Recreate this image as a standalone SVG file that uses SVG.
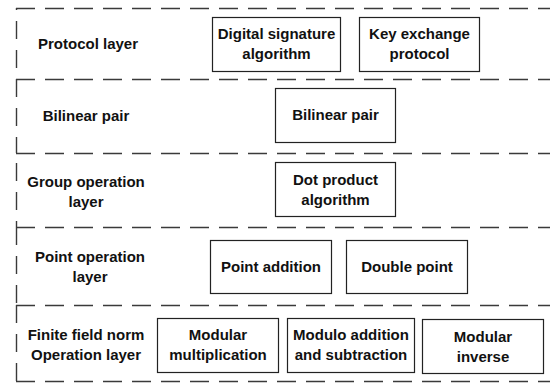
<svg xmlns="http://www.w3.org/2000/svg" width="550" height="385" viewBox="0 0 550 385">
  <style>
    .bg { fill: #ffffff; }
    .dash { fill: none; stroke: #3a3a3a; stroke-width: 1.4; stroke-dasharray: 19 10; }
    .vdash { fill: none; stroke: #3a3a3a; stroke-width: 1.4; stroke-dasharray: 18 11; }
    .box { fill: #ffffff; stroke: #222222; stroke-width: 1.2; }
    text { font-family: "Liberation Sans", Arial, sans-serif; font-weight: bold; font-size: 15px; fill: #111111; text-anchor: middle; }
  </style>
  <rect class="bg" x="0" y="0" width="550" height="385"/>

  <!-- layer boundaries -->
  <g id="layer-borders">
    <line class="dash" x1="16" y1="8.5" x2="550" y2="8.5"/>
    <line class="dash" x1="16" y1="79.5" x2="550" y2="79.5"/>
    <line class="dash" x1="16" y1="153.5" x2="550" y2="153.5"/>
    <line class="dash" x1="16" y1="227.5" x2="550" y2="227.5"/>
    <line class="dash" x1="16" y1="305.5" x2="550" y2="305.5"/>
    <line class="dash" x1="16" y1="381.5" x2="550" y2="381.5"/>
    <line class="vdash" x1="16.5" y1="8" x2="16.5" y2="79" stroke-dashoffset="16"/>
    <line class="vdash" x1="16.5" y1="79" x2="16.5" y2="153" stroke-dashoffset="0"/>
    <line class="vdash" x1="16.5" y1="153" x2="16.5" y2="227" stroke-dashoffset="19"/>
    <line class="vdash" x1="16.5" y1="227" x2="16.5" y2="305" stroke-dashoffset="0"/>
    <line class="vdash" x1="16.5" y1="305" x2="16.5" y2="382" stroke-dashoffset="0"/>
  </g>

  <!-- layer labels -->
  <g id="label-protocol"><text x="88" y="49">Protocol layer</text></g>
  <g id="label-bilinear"><text x="86" y="121">Bilinear pair</text></g>
  <g id="label-group"><text x="86" y="187">Group operation</text><text x="86" y="207">layer</text></g>
  <g id="label-point"><text x="90" y="262">Point operation</text><text x="90" y="282">layer</text></g>
  <g id="label-field"><text x="86" y="340">Finite field norm</text><text x="86" y="360">Operation layer</text></g>

  <!-- protocol layer -->
  <g id="digital-signature">
    <rect class="box" x="212.5" y="17.5" width="128" height="54"/>
    <text x="276.5" y="39">Digital signature</text>
    <text x="276.5" y="59">algorithm</text>
  </g>
  <g id="key-exchange">
    <rect class="box" x="359.5" y="17.5" width="120" height="54"/>
    <text x="419.5" y="39">Key exchange</text>
    <text x="419.5" y="59">protocol</text>
  </g>

  <!-- bilinear pair layer -->
  <g id="bilinear-pair">
    <rect class="box" x="275.5" y="88.5" width="120" height="54"/>
    <text x="335.5" y="120">Bilinear pair</text>
  </g>

  <!-- group operation layer -->
  <g id="dot-product">
    <rect class="box" x="275.5" y="162.5" width="120" height="54"/>
    <text x="335.5" y="185">Dot product</text>
    <text x="335.5" y="205">algorithm</text>
  </g>

  <!-- point operation layer -->
  <g id="point-addition">
    <rect class="box" x="210.5" y="240.5" width="121" height="53"/>
    <text x="271" y="272">Point addition</text>
  </g>
  <g id="double-point">
    <rect class="box" x="346.5" y="240.5" width="121" height="53"/>
    <text x="407" y="272">Double point</text>
  </g>

  <!-- finite field layer -->
  <g id="modular-multiplication">
    <rect class="box" x="157.5" y="318.5" width="121" height="54"/>
    <text x="218" y="340">Modular</text>
    <text x="218" y="360">multiplication</text>
  </g>
  <g id="modulo-add-sub">
    <rect class="box" x="287.5" y="318.5" width="127" height="54"/>
    <text x="351" y="340">Modulo addition</text>
    <text x="351" y="360">and subtraction</text>
  </g>
  <g id="modular-inverse">
    <rect class="box" x="422.5" y="319.5" width="121" height="54"/>
    <text x="483" y="342">Modular</text>
    <text x="483" y="362">inverse</text>
  </g>
</svg>
